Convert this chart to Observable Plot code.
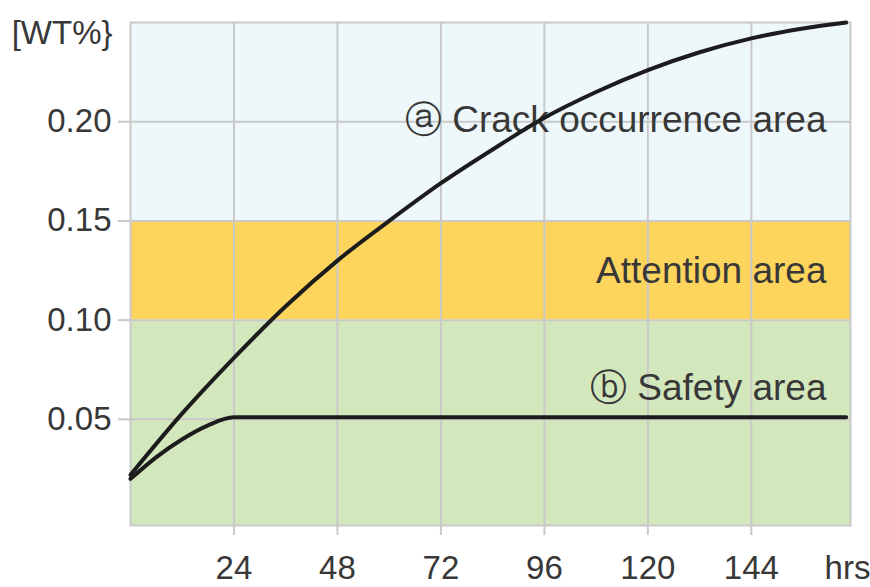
<!DOCTYPE html>
<html><head><meta charset="utf-8">
<script src="https://cdn.jsdelivr.net/npm/d3@7"></script>
<script src="https://cdn.jsdelivr.net/npm/@observablehq/plot@0.6"></script>
<style>body{margin:0;background:#fff}</style>
</head><body><div id="chart"></div>
<script>
// upper curve (crack occurrence)
const crackHours = [0, 12, 24, 36, 48, 60, 72, 84, 96, 108, 120, 132, 144, 156, 166];
const crackWt = [0.022, 0.053, 0.081, 0.107, 0.130, 0.150, 0.169, 0.186, 0.202, 0.215, 0.226, 0.235, 0.242, 0.247, 0.250];
// lower curve (safety)
const safeHours = [0, 6, 12, 18, 24, 48, 96, 144, 166];
const safeWt = [0.020, 0.031, 0.040, 0.047, 0.051, 0.051, 0.051, 0.051, 0.051];

const xTicks = [24, 48, 72, 96, 120, 144];
const xTickLabels = ["24", "48", "72", "96", "120", "144"];
const yTicks = [0.05, 0.10, 0.15, 0.20];
const yTickLabels = ["0.05", "0.10", "0.15", "0.20"];

const zoneNames = ["Safety", "Attention", "Crack occurrence"];
const zoneLow = [null, 0.10, 0.15];
const zoneHigh = [0.10, 0.15, null];
const zoneColors = ["#d3e7bd", "#fdd45c", "#eef8fb"];

const annotationLabels = ["ⓑ Safety area", "Attention area", "ⓐ Crack occurrence area"];
const annotationWt = [0.0656, 0.1245, 0.201];

const yUnit = "[WT%}";
const xUnit = "hrs";

const xDomain = [0, 167];
const yDomain = [-0.0035, 0.25];

const zones = zoneNames.map((n, i) => ({
  name: n,
  y1: zoneLow[i] ?? yDomain[0],
  y2: zoneHigh[i] ?? yDomain[1],
  color: zoneColors[i]
}));
const crack = crackHours.map((h, i) => ({h, v: crackWt[i]}));
const safe = safeHours.map((h, i) => ({h, v: safeWt[i]}));
const notes = annotationLabels.map((t, i) => ({t, v: annotationWt[i], h: xDomain[1]}));

const gridColor = "#c9c9c9";
const textColor = "#383838";

const chart = Plot.plot({
  width: 870,
  height: 587,
  marginLeft: 130,
  marginRight: 20,
  marginTop: 22,
  marginBottom: 62,
  style: {fontFamily: "'Liberation Sans', Arial, sans-serif", fontSize: "33px", background: "#fff", color: textColor},
  x: {domain: xDomain},
  y: {domain: yDomain},
  marks: [
    Plot.rect(zones, {x1: xDomain[0], x2: xDomain[1], y1: "y1", y2: "y2", fill: "color"}),
    Plot.gridX(xTicks, {stroke: gridColor, strokeOpacity: 1, strokeWidth: 2}),
    Plot.gridY(yTicks, {stroke: gridColor, strokeOpacity: 1, strokeWidth: 2}),
    Plot.frame({stroke: gridColor, strokeWidth: 2}),
    Plot.axisX(xTicks, {tickSize: 10, tickPadding: 20, stroke: gridColor, strokeWidth: 2, strokeOpacity: 1, fill: textColor, label: null,
      tickFormat: (d, i) => xTickLabels[i]}),
    Plot.axisY(yTicks, {tickSize: 12, tickPadding: 7, stroke: gridColor, strokeWidth: 2, strokeOpacity: 1, fill: textColor, label: null,
      tickFormat: (d, i) => yTickLabels[i]}),
    Plot.text([yUnit], {frameAnchor: "top-left", textAnchor: "end", lineAnchor: "middle", dx: -18, dy: 11, fill: textColor, fontSize: 33}),
    Plot.text([xUnit], {frameAnchor: "bottom-right", textAnchor: "middle", lineAnchor: "top", dx: -3, dy: 30, fill: textColor, fontSize: 33}),
    Plot.text(notes, {x: "h", y: "v", text: "t", textAnchor: "end", lineAnchor: "middle", dx: -24, fill: textColor, fontSize: 37}),
    Plot.line(crack, {x: "h", y: "v", curve: "monotone-x", stroke: "#1c1c1c", strokeWidth: 4}),
    Plot.line(safe, {x: "h", y: "v", curve: "monotone-x", stroke: "#1c1c1c", strokeWidth: 4})
  ]
});
document.getElementById("chart").appendChild(chart);
</script>
</body></html>
